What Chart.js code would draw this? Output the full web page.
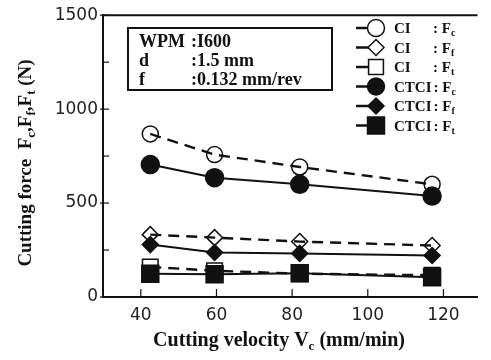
<!DOCTYPE html>
<html>
<head>
<meta charset="utf-8">
<script src="https://cdn.jsdelivr.net/npm/chart.js@4.4.0/dist/chart.umd.min.js"></script>
<style>
  html, body { margin: 0; padding: 0; background: #fff; overflow: hidden; }
  #wrap { width: 491px; height: 360px; position: relative; }
</style>
</head>
<body>
<div id="wrap"><canvas id="forceChart"></canvas></div>
<script>
// cutting velocity Vc (mm/min)
const velocity = [42.5, 59.5, 82, 117];

// cutting forces (N)
const ciFc = [868, 758, 692, 600];
const ciFf = [332, 316, 295, 274];
const ciFt = [160, 140, 124, 116];
const ctciFc = [705, 635, 600, 537];
const ctciFf = [279, 237, 232, 221];
const ctciFt = [124, 121, 126, 105];

const xTickValues = [40, 60, 80, 100, 120];
const yTickValues = [0, 250, 500, 750, 1000, 1250, 1500];
const yLabelValues = [0, 500, 1000, 1500];

const materialNames = ['CI', 'CI', 'CI', 'CTCI', 'CTCI', 'CTCI'];
const forceSubs = ['c', 'f', 't', 'c', 'f', 't'];
const infoLines = [['WPM', ':I600'], ['d', ':1.5 mm'], ['f', ':0.132 mm/rev']];

const INK = '#111';
const serif = '"Liberation Serif", "Times New Roman", serif';

const seriesStyle = [
  { shape: 'circle', r: 8, open: true },
  { shape: 'rectRot', r: 8, open: true },
  { shape: 'rect', r: 11, open: true },
  { shape: 'circle', r: 9, open: false },
  { shape: 'rectRot', r: 8, open: false },
  { shape: 'rect', r: 12, open: false },
];

function pts(ys) {
  return ys.map((y, i) => ({ x: velocity[i], y: y }));
}

const seriesData = [ciFc, ciFf, ciFt, ctciFc, ctciFf, ctciFt];

const datasets = seriesData.map((ys, i) => {
  const st = seriesStyle[i];
  return {
    label: materialNames[i] + ' : F' + forceSubs[i],
    data: pts(ys),
    borderColor: INK,
    borderWidth: st.open ? 2.4 : 2,
    borderDash: st.open ? [11, 7] : [],
    pointStyle: st.shape,
    pointRadius: st.r,
    pointHoverRadius: st.r,
    pointBorderWidth: 1.5,
    pointBorderColor: INK,
    pointBackgroundColor: st.open ? 'rgba(0,0,0,0)' : INK,
    order: st.open ? 2 : 1,
    tension: 0,
  };
});

function drawMarker(ctx, shape, x, y, r, open) {
  ctx.save();
  ctx.setLineDash([]);
  ctx.beginPath();
  if (shape === 'circle') {
    ctx.arc(x, y, r, 0, Math.PI * 2);
  } else if (shape === 'rectRot') {
    ctx.moveTo(x, y - r);
    ctx.lineTo(x + r, y);
    ctx.lineTo(x, y + r);
    ctx.lineTo(x - r, y);
    ctx.closePath();
  } else {
    const s = r * Math.SQRT1_2;
    ctx.rect(x - s, y - s, 2 * s, 2 * s);
  }
  ctx.fillStyle = open ? '#fff' : INK;
  ctx.fill();
  ctx.lineWidth = 1.5;
  ctx.strokeStyle = INK;
  ctx.stroke();
  ctx.restore();
}

// text with subscripts: parts = [[text, isSub], ...]
function richWidth(ctx, parts, size, subSize) {
  let w = 0;
  parts.forEach(([t, sub]) => {
    ctx.font = 'bold ' + (sub ? subSize : size) + 'px ' + serif;
    w += ctx.measureText(t).width;
  });
  return w;
}

function drawRich(ctx, parts, x, y, size, subSize, drop) {
  let cx = x;
  parts.forEach(([t, sub]) => {
    ctx.font = 'bold ' + (sub ? subSize : size) + 'px ' + serif;
    ctx.fillText(t, cx, y + (sub ? drop : 0));
    cx += ctx.measureText(t).width;
  });
  return cx;
}

const decorPlugin = {
  id: 'decor',
  afterDraw(chart) {
    const ctx = chart.ctx;
    const area = chart.chartArea;
    const xs = chart.scales.x;
    const ys = chart.scales.y;
    ctx.save();
    ctx.strokeStyle = INK;
    ctx.fillStyle = INK;
    ctx.textBaseline = 'alphabetic';
    ctx.textAlign = 'left';

    // top frame line
    ctx.lineWidth = 2;
    ctx.beginPath();
    ctx.moveTo(area.left, area.top);
    ctx.lineTo(area.right, area.top);
    ctx.stroke();

    // inward tick marks
    ctx.lineWidth = 1.2;
    ys.ticks.forEach((t) => {
      const py = ys.getPixelForValue(t.value);
      ctx.beginPath();
      ctx.moveTo(area.left - (yLabelValues.includes(t.value) ? 3 : 0), py);
      ctx.lineTo(area.left + 6, py);
      ctx.stroke();
    });
    xs.ticks.forEach((t) => {
      const px = xs.getPixelForValue(t.value);
      ctx.beginPath();
      ctx.moveTo(px, area.bottom);
      ctx.lineTo(px, area.bottom - 8);
      ctx.stroke();
    });

    // x title
    const xParts = [['Cutting velocity V', 0], ['c', 1], [' (mm/min)', 0]];
    const xw = richWidth(ctx, xParts, 20, 13);
    drawRich(ctx, xParts, 279 - xw / 2, 346, 20, 13, 4);

    // y title
    const yParts = [['Cutting force  F', 0], ['c', 1], [',F', 0], ['f', 1], [',F', 0], ['t', 1], [' (N)', 0]];
    const yw = richWidth(ctx, yParts, 19, 13);
    ctx.save();
    ctx.translate(31, 163);
    ctx.rotate(-Math.PI / 2);
    drawRich(ctx, yParts, -yw / 2, 0, 19, 13, 4);
    ctx.restore();

    // info box
    ctx.lineWidth = 2;
    ctx.strokeRect(128, 28, 204, 62);
    ctx.font = 'bold 18px ' + serif;
    infoLines.forEach((ln, i) => {
      const by = 47 + i * 19;
      ctx.fillText(ln[0], 139, by);
      ctx.fillText(ln[1], 191, by);
    });

    // legend
    for (let i = 0; i < seriesStyle.length; i++) {
      const st = seriesStyle[i];
      const cy = 28 + i * 19.5;
      ctx.lineWidth = 2.5;
      ctx.beginPath();
      ctx.moveTo(356, cy);
      ctx.lineTo(372, cy);
      ctx.stroke();
      const lr = st.shape === 'rect' ? (st.open ? 10.5 : 12) : (st.shape === 'circle' ? 8.5 : 8);
      drawMarker(ctx, st.shape, 376, cy, lr, st.open);
      ctx.font = 'bold 15px ' + serif;
      ctx.fillText(materialNames[i], 394, cy + 5);
      const nameEnd = 394 + ctx.measureText(materialNames[i]).width;
      const colonX = Math.max(433, nameEnd + 2);
      drawRich(ctx, [[':', 0], [' F', 0], [forceSubs[i], 1]], colonX, cy + 5, 15, 10, 3);
    }
    ctx.restore();
  },
};

new Chart(document.getElementById('forceChart'), {
  type: 'line',
  data: { datasets: datasets },
  options: {
    responsive: true,
    maintainAspectRatio: false,
    animation: false,
    layout: { padding: { top: 12, right: 0, left: 0, bottom: 0 } },
    plugins: {
      legend: { display: false },
      tooltip: { enabled: false },
    },
    scales: {
      x: {
        type: 'linear',
        min: 30,
        max: 129,
        afterBuildTicks: (scale) => { scale.ticks = xTickValues.map((v) => ({ value: v })); },
        afterFit: (scale) => { scale.height = 63; },
        grid: { display: false, drawTicks: false, tickLength: 0 },
        border: { display: true, color: INK, width: 2 },
        ticks: {
          color: '#222',
          padding: 8,
          font: { family: '"DejaVu Sans", sans-serif', size: 17 },
          callback: (v) => String(v),
        },
      },
      y: {
        type: 'linear',
        min: 0,
        max: 1500,
        afterBuildTicks: (scale) => { scale.ticks = yTickValues.map((v) => ({ value: v })); },
        afterFit: (scale) => { scale.width = 103; },
        grid: { display: false, drawTicks: false, tickLength: 0 },
        border: { display: true, color: INK, width: 2 },
        ticks: {
          color: '#222',
          padding: 5,
          font: { family: '"DejaVu Sans", sans-serif', size: 17 },
          callback: (v) => (yLabelValues.includes(v) ? String(v) : ''),
        },
      },
    },
  },
  plugins: [decorPlugin],
});
</script>
</body>
</html>
